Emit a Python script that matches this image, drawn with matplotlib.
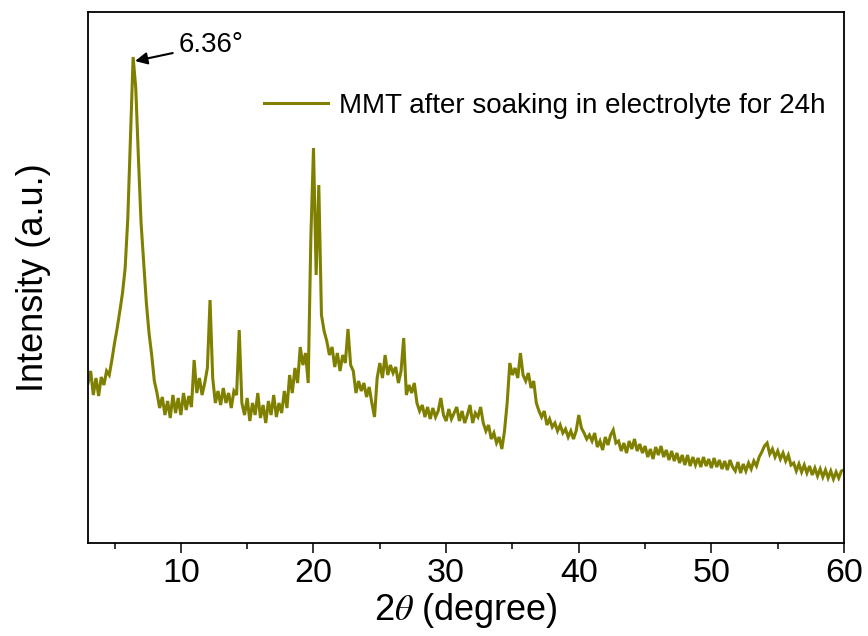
import numpy as np
import matplotlib.pyplot as plt
from matplotlib.ticker import MultipleLocator

plt.rcParams['font.family'] = ['Liberation Sans', 'DejaVu Sans']
plt.rcParams['mathtext.fontset'] = 'stix'

# XRD pattern, 0.2 deg steps from 3 to 60 (arb. units)
start_deg = 3.0
step_deg = 0.2

counts_low = [
    160, 172, 148, 165, 147, 166, 158, 172, 168, 183,
    200, 215, 232, 250, 275, 325, 405, 486, 455, 385,
    320, 280, 240, 210, 188, 162, 150, 135, 146, 128,
    142, 125, 148, 130, 145, 128, 150, 133, 147, 136,
    183, 150, 165, 148, 160, 175, 243, 165, 140, 152,
    138, 155, 140, 150, 135, 152, 148, 213, 140, 128,
    145, 122, 140, 128, 150, 125, 138, 120, 142, 128,
    148, 126, 140, 130, 152, 135, 168, 150, 175, 160,
    196, 178, 190, 160, 305, 395, 268, 358, 228, 212,
]
counts_mid = [
    202, 188, 196, 176, 190, 172, 188, 180, 214, 178,
    172, 150, 162, 152, 160, 146, 156, 140, 126, 165,
    180, 165, 188, 168, 178, 170, 176, 160, 172, 205,
    148, 158, 150, 160, 140, 132, 138, 126, 136, 124,
    135, 126, 132, 145, 128, 122, 134, 124, 130, 136,
    122, 132, 120, 128, 138, 120, 130, 126, 136, 120,
    112, 118, 104, 110, 100, 106, 94, 112, 140, 180,
    168, 175, 165, 190, 168, 162, 170, 155, 162, 140,
    132, 126, 132, 118, 124, 116, 120, 112, 118, 110,
    114, 106, 112, 104, 112, 128, 115, 110, 104, 108,
]
counts_high = [
    102, 110, 96, 102, 93, 106, 98, 108, 113, 100,
    102, 92, 100, 90, 102, 94, 104, 92, 99, 90,
    97, 86, 94, 84, 96, 88, 97, 86, 93, 83,
    92, 82, 90, 80, 88, 78, 88, 77, 86, 78,
    85, 76, 86, 77, 84, 75, 85, 76, 83, 74,
    82, 73, 83, 76, 72, 81, 70, 79, 72, 80,
    74, 82, 77, 86, 91, 97, 100, 89, 94, 86,
    92, 84, 90, 82, 88, 78, 80, 72, 79, 71,
    78, 70, 77, 68, 75, 67, 74, 66, 73, 65,
    72, 64, 71, 65, 72, 73,
]

intensity = np.array(counts_low + counts_mid + counts_high)
two_theta = start_deg + step_deg * np.arange(len(intensity))

fig = plt.figure(figsize=(8.68, 6.36), dpi=100)
ax = fig.add_axes([0.1014, 0.1462, 0.8710, 0.8349])

ax.plot(two_theta, intensity, color='#808000', linewidth=2.2,
        solid_joinstyle='miter',
        label='MMT after soaking in electrolyte for 24h')

ax.set_xlim(3, 60)
ax.set_ylim(0, 531)
ax.xaxis.set_major_locator(MultipleLocator(10))
ax.xaxis.set_minor_locator(MultipleLocator(5))
ax.tick_params(axis='x', which='major', direction='out', length=7.5, width=1.1,
               labelsize=24.5, pad=3)
ax.tick_params(axis='x', which='minor', direction='out', length=4.5, width=1.1)
ax.tick_params(axis='y', left=False, labelleft=False)
for sp in ax.spines.values():
    sp.set_linewidth(1.3)

ax.set_xlabel(r'2$\theta$ (degree)', fontsize=26, labelpad=2)
ax.set_ylabel('Intensity (a.u.)', fontsize=26, labelpad=27)

ax.annotate('6.36°', xy=(6.55, 482), xytext=(9.8, 498), fontsize=20,
            va='center', ha='left',
            arrowprops=dict(arrowstyle='-|>', color='black', lw=1.5,
                            mutation_scale=18, shrinkA=2, shrinkB=0))

ax.legend(loc='center right', bbox_to_anchor=(0.976, 0.823), frameon=False,
          fontsize=20, handlelength=2.3, handletextpad=0.4,
          borderpad=0, borderaxespad=0)

fig.savefig('out.png', dpi=100)
